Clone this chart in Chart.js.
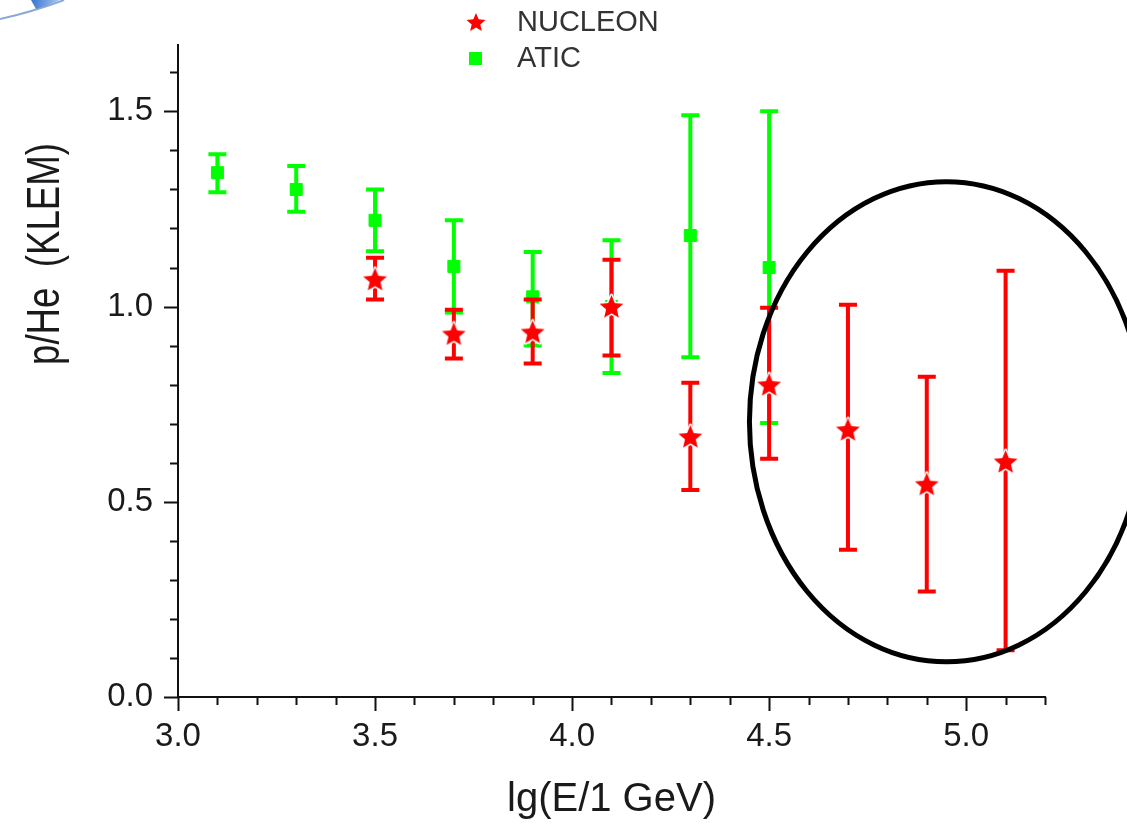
<!DOCTYPE html>
<html>
<head>
<meta charset="utf-8">
<script src="https://cdn.jsdelivr.net/npm/chart.js@4/dist/chart.umd.min.js"></script>
<style>
  html, body { margin: 0; padding: 0; background: #fff; }
</style>
</head>
<body>
<canvas id="chart" width="1127" height="824"></canvas>
<script>
// p/He ratio vs energy, NUCLEON (KLEM) and ATIC
const nucleonE = [3.5, 3.7, 3.9, 4.1, 4.3, 4.5, 4.7, 4.9, 5.1];
const nucleon = [1.07, 0.93, 0.935, 1.0, 0.667, 0.80, 0.685, 0.545, 0.603];
const nucleonHi = [1.125, 0.992, 1.018, 1.12, 0.805, 0.997, 1.005, 0.82, 1.092];
const nucleonLo = [1.018, 0.867, 0.854, 0.875, 0.53, 0.61, 0.377, 0.27, 0.12];

const aticE = [3.1, 3.3, 3.5, 3.7, 3.9, 4.1, 4.3, 4.5];
const atic = [1.343, 1.30, 1.221, 1.103, 1.025, 1.0, 1.182, 1.10];
const aticHi = [1.39, 1.36, 1.30, 1.221, 1.14, 1.17, 1.49, 1.50];
const aticLo = [1.293, 1.243, 1.142, 0.985, 0.90, 0.83, 0.87, 0.702];

// highlighted region (data units)
const ring = { x: 4.95, y: 0.705, rx: 0.5, ry: 0.615 };

const RED = '#ff0000';
const GREEN = '#00ff00';
const FONT = '"Liberation Sans", Arial, sans-serif';

function makeStar(R) {
  const s = Math.ceil(R * 2 + 6);
  const c = document.createElement('canvas');
  c.width = c.height = s;
  const g = c.getContext('2d');
  g.translate(s / 2, s / 2 + 1);
  g.beginPath();
  for (let i = 0; i < 10; i++) {
    const r = i % 2 ? R * 0.45 : R;
    const a = -Math.PI / 2 + i * Math.PI / 5;
    g.lineTo(r * Math.cos(a), r * Math.sin(a));
  }
  g.closePath();
  g.lineJoin = 'round';
  g.lineWidth = 3;
  g.strokeStyle = '#fff';
  g.stroke();
  g.fillStyle = RED;
  g.fill();
  return c;
}
const star = makeStar(12.5);
const legendStar = makeStar(10);

const errors = [
  { hi: nucleonHi, lo: nucleonLo, color: RED },
  { hi: aticHi, lo: aticLo, color: GREEN }
];

const extras = {
  id: 'extras',
  beforeDraw(chart) {
    // bit of a blue logo arc in the corner
    const ctx = chart.ctx;
    ctx.save();
    ctx.strokeStyle = '#8aa9d6';
    ctx.lineWidth = 2;
    ctx.beginPath();
    ctx.moveTo(0, 19);
    ctx.quadraticCurveTo(32, 12, 64, 0);
    ctx.stroke();
    const grd = ctx.createLinearGradient(30, 0, 62, 6);
    grd.addColorStop(0, '#2f6fd0');
    grd.addColorStop(1, '#b9cff0');
    ctx.fillStyle = grd;
    ctx.beginPath();
    ctx.moveTo(31, 0);
    ctx.lineTo(60, 0);
    ctx.quadraticCurveTo(48, 6, 36, 9);
    ctx.closePath();
    ctx.fill();
    ctx.restore();
  },
  beforeDatasetDraw(chart, args) {
    const e = errors[args.index];
    const xs = chart.scales.x, ys = chart.scales.y;
    const ctx = chart.ctx;
    const pts = chart.data.datasets[args.index].data;
    ctx.save();
    ctx.strokeStyle = e.color;
    ctx.lineWidth = 4;
    pts.forEach((p, i) => {
      const x = xs.getPixelForValue(p.x);
      const y1 = ys.getPixelForValue(e.hi[i]);
      const y2 = ys.getPixelForValue(e.lo[i]);
      ctx.beginPath();
      ctx.moveTo(x, y1); ctx.lineTo(x, y2);
      ctx.moveTo(x - 9, y1); ctx.lineTo(x + 9, y1);
      ctx.moveTo(x - 9, y2); ctx.lineTo(x + 9, y2);
      ctx.stroke();
    });
    ctx.restore();
  },
  afterDraw(chart) {
    const ctx = chart.ctx;
    const xs = chart.scales.x, ys = chart.scales.y;
    const area = chart.chartArea;
    ctx.save();
    // tick marks, major every 0.5, minor every 0.1
    ctx.strokeStyle = '#111';
    ctx.lineWidth = 2;
    ctx.beginPath();
    for (let k = 30; k <= 52; k++) {
      const x = Math.round(xs.getPixelForValue(k / 10)) + 0.5;
      const len = k % 5 === 0 ? 14 : 8;
      ctx.moveTo(x, area.bottom); ctx.lineTo(x, area.bottom + len);
    }
    for (let k = 0; k <= 16; k++) {
      const y = Math.round(ys.getPixelForValue(k / 10)) + 0.5;
      const len = k % 5 === 0 ? 14 : 8;
      ctx.moveTo(area.left, y); ctx.lineTo(area.left - len, y);
    }
    ctx.stroke();

    // axis titles
    ctx.fillStyle = '#1a1a1a';
    ctx.textAlign = 'center';
    ctx.textBaseline = 'middle';
    ctx.font = '40px ' + FONT;
    ctx.fillText('lg(E/1 GeV)', (area.left + area.right) / 2, 800);
    ctx.save();
    ctx.translate(46, 254);
    ctx.rotate(-Math.PI / 2);
    ctx.font = '46px ' + FONT;
    ctx.fillText('p/He  (KLEM)', 0, 0, 222);
    ctx.restore();

    // legend
    ctx.drawImage(legendStar, 476 - legendStar.width / 2, 22 - legendStar.height / 2);
    ctx.fillStyle = GREEN;
    ctx.fillRect(469, 52, 13, 13);
    ctx.fillStyle = '#333';
    ctx.textAlign = 'left';
    ctx.font = '29px ' + FONT;
    ctx.fillText('NUCLEON', 517, 23);
    ctx.fillText('ATIC', 517, 59);

    // ring around the highest energy points
    const cx = xs.getPixelForValue(ring.x);
    const cy = ys.getPixelForValue(ring.y);
    const rx = xs.getPixelForValue(ring.x + ring.rx) - cx;
    const ry = cy - ys.getPixelForValue(ring.y + ring.ry);
    ctx.strokeStyle = '#000';
    ctx.lineWidth = 5;
    ctx.beginPath();
    ctx.ellipse(cx, cy, rx, ry, 0, 0, Math.PI * 2);
    ctx.stroke();
    ctx.restore();
  }
};

const tickCb = v => (Math.round(v * 10) % 5 === 0 ? v.toFixed(1) : '');

new Chart(document.getElementById('chart'), {
  type: 'scatter',
  data: {
    datasets: [
      {
        label: 'NUCLEON',
        data: nucleonE.map((x, i) => ({ x, y: nucleon[i] })),
        pointStyle: star,
        pointRadius: 12,
        backgroundColor: RED,
        borderColor: RED
      },
      {
        label: 'ATIC',
        data: aticE.map((x, i) => ({ x, y: atic[i] })),
        pointStyle: 'rect',
        pointRadius: 8.5,
        borderWidth: 1,
        backgroundColor: GREEN,
        borderColor: GREEN
      }
    ]
  },
  options: {
    responsive: false,
    animation: false,
    events: [],
    layout: { padding: { top: 45, right: 82, left: 0, bottom: 0 } },
    plugins: { legend: { display: false }, tooltip: { enabled: false } },
    scales: {
      x: {
        type: 'linear',
        min: 3.0,
        max: 5.2,
        afterFit: s => { s.height = 127; },
        grid: { display: false, drawTicks: false },
        border: { color: '#111', width: 2 },
        ticks: {
          stepSize: 0.5,
          includeBounds: false,
          autoSkip: false,
          maxRotation: 0,
          padding: 20,
          color: '#1a1a1a',
          font: { family: FONT, size: 33 },
          callback: tickCb
        }
      },
      y: {
        min: 0,
        max: 1.67,
        afterFit: s => { s.width = 178; },
        grid: { display: false, drawTicks: false },
        border: { color: '#111', width: 2 },
        ticks: {
          stepSize: 0.5,
          includeBounds: false,
          autoSkip: false,
          padding: 25,
          color: '#1a1a1a',
          font: { family: FONT, size: 33 },
          callback: tickCb
        }
      }
    }
  },
  plugins: [extras]
});
</script>
</body>
</html>
